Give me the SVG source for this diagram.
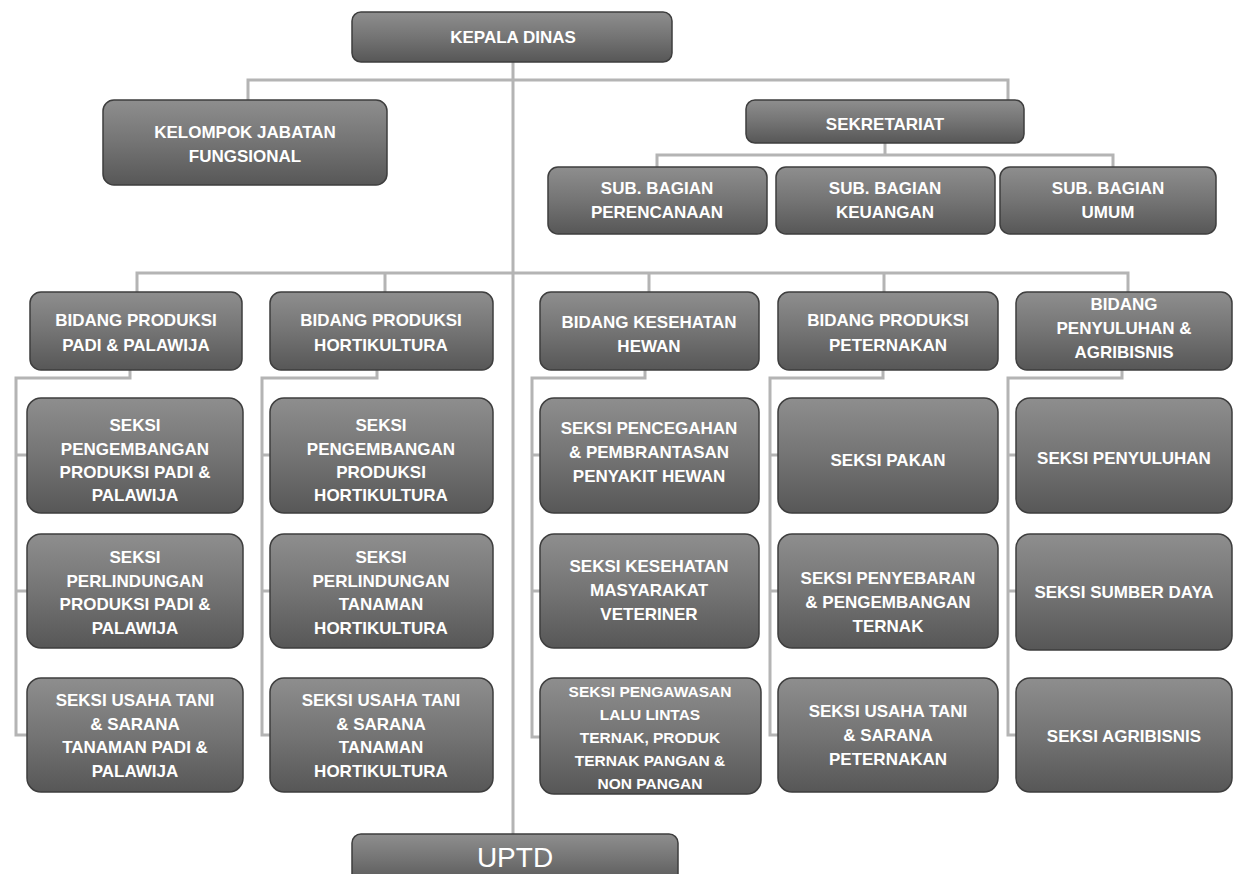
<svg xmlns="http://www.w3.org/2000/svg" width="1240" height="874" viewBox="0 0 1240 874">
<defs>
<linearGradient id="g" x1="0" y1="0" x2="0" y2="1">
<stop offset="0" stop-color="#8e8e8e"/>
<stop offset="0.5" stop-color="#747474"/>
<stop offset="1" stop-color="#575757"/>
</linearGradient>
<style>
.b{fill:url(#g);stroke:#3e3e3e;stroke-width:1.5}
.t{font-family:"Liberation Sans",Arial,sans-serif;font-weight:bold;font-size:17px;fill:#ffffff;text-anchor:middle;dominant-baseline:central}
.s{font-size:15.5px}
.u{font-size:28px;font-weight:normal}
.c{fill:none;stroke:#b4b4b4;stroke-width:3}
</style>
</defs>
<rect width="1240" height="874" fill="#ffffff"/>
<g id="connectors">
<path class="c" d="M513 62V836"/>
<path class="c" d="M248 100V80H1008V100"/>
<path class="c" d="M885 143V155M657 167V155H1113V167"/>
<path class="c" d="M137 292V273H1128V292M385 273V292M649 273V292M884 273V292"/>
<path class="c" d="M130 370V378H16V735H27M16 455H27M16 591H27"/>
<path class="c" d="M377 370V378H262V735H270M262 455H270M262 591H270"/>
<path class="c" d="M645 370V378H532V737H540M532 455H540M532 591H540"/>
<path class="c" d="M883 370V378H770V735H778M770 455H778M770 591H778"/>
<path class="c" d="M1122 370V378H1008V735H1016M1008 455H1016M1008 591H1016"/>
</g>
<g id="kepala"><rect class="b" x="352" y="12" width="320" height="50" rx="9"/><text class="t" x="513" y="37">KEPALA DINAS</text></g>
<g id="kelompok"><rect class="b" x="103" y="100" width="284" height="85" rx="11"/><text class="t" x="245" y="132">KELOMPOK JABATAN</text><text class="t" x="245" y="156">FUNGSIONAL</text></g>
<g id="sekretariat"><rect class="b" x="746" y="100" width="278" height="43" rx="9"/><text class="t" x="885" y="124">SEKRETARIAT</text></g>
<g id="sub1"><rect class="b" x="548" y="167" width="219" height="67" rx="10"/><text class="t" x="657" y="188">SUB. BAGIAN</text><text class="t" x="657" y="212">PERENCANAAN</text></g>
<g id="sub2"><rect class="b" x="776" y="167" width="219" height="67" rx="10"/><text class="t" x="885" y="188">SUB. BAGIAN</text><text class="t" x="885" y="212">KEUANGAN</text></g>
<g id="sub3"><rect class="b" x="1000" y="167" width="216" height="67" rx="10"/><text class="t" x="1108" y="188">SUB. BAGIAN</text><text class="t" x="1108" y="212">UMUM</text></g>
<g id="bidang1"><rect class="b" x="30" y="292" width="212" height="78" rx="11"/><text class="t" x="136" y="320">BIDANG PRODUKSI</text><text class="t" x="136" y="345">PADI &amp; PALAWIJA</text></g>
<g id="bidang2"><rect class="b" x="270" y="292" width="223" height="78" rx="11"/><text class="t" x="381" y="320">BIDANG PRODUKSI</text><text class="t" x="381" y="345">HORTIKULTURA</text></g>
<g id="bidang3"><rect class="b" x="540" y="292" width="219" height="78" rx="11"/><text class="t" x="649" y="322">BIDANG KESEHATAN</text><text class="t" x="649" y="346">HEWAN</text></g>
<g id="bidang4"><rect class="b" x="778" y="292" width="220" height="78" rx="11"/><text class="t" x="888" y="320">BIDANG PRODUKSI</text><text class="t" x="888" y="345">PETERNAKAN</text></g>
<g id="bidang5"><rect class="b" x="1016" y="292" width="216" height="78" rx="11"/><text class="t" x="1124" y="304">BIDANG</text><text class="t" x="1124" y="328">PENYULUHAN &amp;</text><text class="t" x="1124" y="352">AGRIBISNIS</text></g>
<g id="s11"><rect class="b" x="27" y="398" width="216" height="115" rx="14"/><text class="t" x="135" y="425">SEKSI</text><text class="t" x="135" y="449">PENGEMBANGAN</text><text class="t" x="135" y="472">PRODUKSI PADI &amp;</text><text class="t" x="135" y="495">PALAWIJA</text></g>
<g id="s12"><rect class="b" x="27" y="534" width="216" height="114" rx="14"/><text class="t" x="135" y="557">SEKSI</text><text class="t" x="135" y="581">PERLINDUNGAN</text><text class="t" x="135" y="604">PRODUKSI PADI &amp;</text><text class="t" x="135" y="628">PALAWIJA</text></g>
<g id="s13"><rect class="b" x="27" y="678" width="216" height="114" rx="14"/><text class="t" x="135" y="700">SEKSI USAHA TANI</text><text class="t" x="135" y="724">&amp; SARANA</text><text class="t" x="135" y="747">TANAMAN PADI &amp;</text><text class="t" x="135" y="771">PALAWIJA</text></g>
<g id="s21"><rect class="b" x="270" y="398" width="223" height="115" rx="14"/><text class="t" x="381" y="425">SEKSI</text><text class="t" x="381" y="449">PENGEMBANGAN</text><text class="t" x="381" y="472">PRODUKSI</text><text class="t" x="381" y="495">HORTIKULTURA</text></g>
<g id="s22"><rect class="b" x="270" y="534" width="223" height="114" rx="14"/><text class="t" x="381" y="557">SEKSI</text><text class="t" x="381" y="581">PERLINDUNGAN</text><text class="t" x="381" y="604">TANAMAN</text><text class="t" x="381" y="628">HORTIKULTURA</text></g>
<g id="s23"><rect class="b" x="270" y="678" width="223" height="114" rx="14"/><text class="t" x="381" y="700">SEKSI USAHA TANI</text><text class="t" x="381" y="724">&amp; SARANA</text><text class="t" x="381" y="747">TANAMAN</text><text class="t" x="381" y="771">HORTIKULTURA</text></g>
<g id="s31"><rect class="b" x="540" y="398" width="219" height="115" rx="14"/><text class="t" x="649" y="428">SEKSI PENCEGAHAN</text><text class="t" x="649" y="452">&amp; PEMBRANTASAN</text><text class="t" x="649" y="476">PENYAKIT HEWAN</text></g>
<g id="s32"><rect class="b" x="540" y="534" width="219" height="114" rx="14"/><text class="t" x="649" y="566">SEKSI KESEHATAN</text><text class="t" x="649" y="590">MASYARAKAT</text><text class="t" x="649" y="614">VETERINER</text></g>
<g id="s33"><rect class="b" x="540" y="678" width="221" height="116" rx="14"/><text class="t s" x="650" y="691">SEKSI PENGAWASAN</text><text class="t s" x="650" y="714">LALU LINTAS</text><text class="t s" x="650" y="737">TERNAK, PRODUK</text><text class="t s" x="650" y="760">TERNAK PANGAN &amp;</text><text class="t s" x="650" y="783">NON PANGAN</text></g>
<g id="s41"><rect class="b" x="778" y="398" width="220" height="115" rx="14"/><text class="t" x="888" y="460">SEKSI PAKAN</text></g>
<g id="s42"><rect class="b" x="778" y="534" width="220" height="114" rx="14"/><text class="t" x="888" y="578">SEKSI PENYEBARAN</text><text class="t" x="888" y="602">&amp; PENGEMBANGAN</text><text class="t" x="888" y="626">TERNAK</text></g>
<g id="s43"><rect class="b" x="778" y="678" width="220" height="114" rx="14"/><text class="t" x="888" y="711">SEKSI USAHA TANI</text><text class="t" x="888" y="735">&amp; SARANA</text><text class="t" x="888" y="759">PETERNAKAN</text></g>
<g id="s51"><rect class="b" x="1016" y="398" width="216" height="115" rx="14"/><text class="t" x="1124" y="458">SEKSI PENYULUHAN</text></g>
<g id="s52"><rect class="b" x="1016" y="534" width="216" height="116" rx="14"/><text class="t" x="1124" y="592">SEKSI SUMBER DAYA</text></g>
<g id="s53"><rect class="b" x="1016" y="678" width="216" height="114" rx="14"/><text class="t" x="1124" y="736">SEKSI AGRIBISNIS</text></g>
<g id="uptd"><rect class="b" x="352" y="834" width="326" height="50" rx="9"/><text class="t u" x="515" y="857">UPTD</text></g>
</svg>
